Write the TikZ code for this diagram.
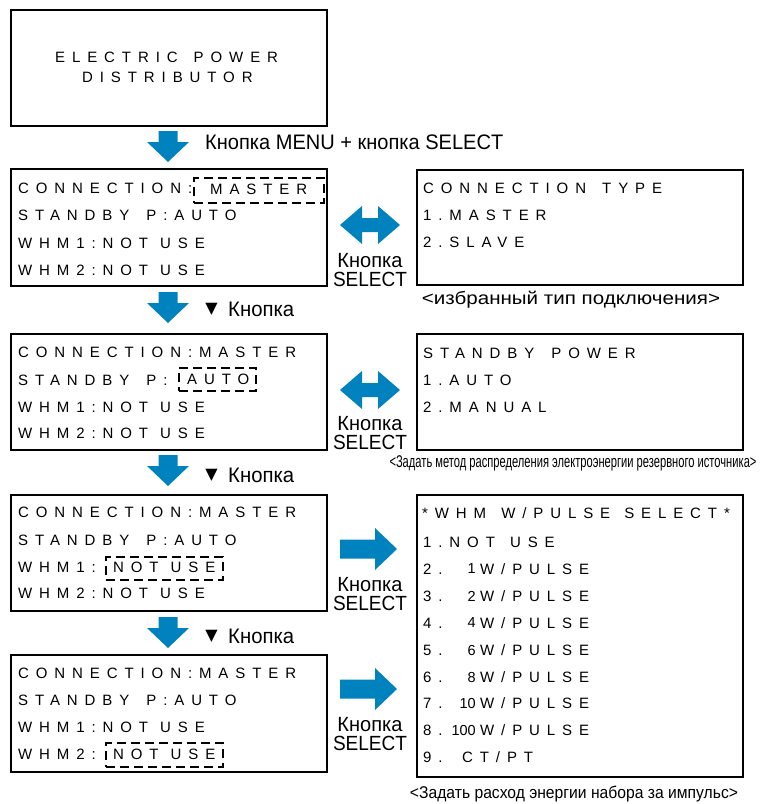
\documentclass[tikz,border=0pt]{standalone}
\usepackage{fontspec}
\usepackage{graphicx}
\setmainfont{Liberation Sans}
\newfontfamily\lcdfont[LetterSpace=46]{Liberation Sans}
\newfontfamily\symfont{DejaVu Sans}
\definecolor{arrowblue}{RGB}{0,130,190}
\newcommand\wsp[1]{\hspace{#1pt}}
\tikzset{
  screen/.style={draw, line width=2pt, anchor=north west, inner sep=0pt},
  hlbox/.style={draw, line width=2pt, dash pattern=on 9pt off 5pt, anchor=north west, inner sep=0pt},
  lcd/.style={anchor=west, inner sep=0pt, font=\fontsize{15}{15}\lcdfont},
  num/.style={anchor=east, inner sep=0pt, font=\fontsize{14.5}{14.5}\selectfont},
  lab/.style={inner sep=0pt, font=\fontsize{21}{21}\selectfont},
  lab2/.style={inner sep=0pt, align=center, font=\fontsize{20.5}{19}\selectfont},
  capt/.style={inner sep=0pt, anchor=base, font=\fontsize{17}{17}\selectfont},
  downarr/.pic={\fill[arrowblue] (-9.5,0) -- (9.5,0) -- (9.5,11) -- (21,11) -- (0,31) -- (-21,11) -- (-9.5,11) -- cycle;},
  dblarr/.pic={\fill[arrowblue] (-30,0) -- (-8,-19) -- (-8,-7) -- (8,-7) -- (8,-19) -- (30,0) -- (8,19) -- (8,7) -- (-8,7) -- (-8,19) -- cycle;},
  rarr/.pic={\fill[arrowblue] (0,-9.5) -- (35,-9.5) -- (35,-21) -- (57,0) -- (35,21) -- (35,9.5) -- (0,9.5) -- cycle;}
}
\begin{document}
\begin{tikzpicture}[x=1pt,y=-1pt]
\useasboundingbox (0,0) rectangle (760,804);
% screens
\node[screen, minimum width=316, minimum height=116] (s0) at (10,9) {};
\node[screen, minimum width=316, minimum height=117] (s1) at (10,168) {};
\node[screen, minimum width=316, minimum height=116] (s2) at (10,333) {};
\node[screen, minimum width=316, minimum height=116] (s3) at (10,494) {};
\node[screen, minimum width=316, minimum height=117] (s4) at (10,654) {};
\node[screen, minimum width=326, minimum height=115] (r1) at (416,169) {};
\node[screen, minimum width=326, minimum height=116] (r2) at (416,333) {};
\node[screen, minimum width=326, minimum height=282] (r3) at (416,494) {};
% highlight boxes
\node[hlbox, minimum width=130, minimum height=25] (h1) at (193,177) {};
\node[hlbox, minimum width=77, minimum height=23] (h2) at (178,367) {};
\node[hlbox, minimum width=117, minimum height=23] (h3) at (105,556) {};
\node[hlbox, minimum width=117, minimum height=24] (h4) at (105,742) {};
% top screen
\node[lcd] (t0a) at (55,57.5) {ELECTRIC\wsp{5} POWER};
\node[lcd] (t0b) at (82,77.5) {DISTRIBUTOR};
% screen 1
\node[lcd] (a1) at (18,188) {CONNECTION:};
\node[lcd] (a1v) at (210,189) {MASTER};
\node[lcd] (a2) at (18,215) {STANDBY\wsp{6} P:AUTO};
\node[lcd] (a3) at (18,243) {WHM1:NOT\wsp{1} USE};
\node[lcd] (a4) at (18,270) {WHM2:NOT\wsp{1} USE};
% screen 2
\node[lcd] (b1) at (18,352) {CONNECTION:MASTER};
\node[lcd] (b2) at (18,380) {STANDBY\wsp{6} P:};
\node[lcd] (b2v) at (187,379) {AUTO};
\node[lcd] (b3) at (18,407) {WHM1:NOT\wsp{1} USE};
\node[lcd] (b4) at (18,433) {WHM2:NOT\wsp{1} USE};
% screen 3
\node[lcd] (c1) at (18,512) {CONNECTION:MASTER};
\node[lcd] (c2) at (18,540) {STANDBY\wsp{6} P:AUTO};
\node[lcd] (c3) at (18,567) {WHM1:};
\node[lcd] (c3v) at (113,567) {NOT\wsp{1} USE};
\node[lcd] (c4) at (18,593) {WHM2:NOT\wsp{1} USE};
% screen 4
\node[lcd] (d1) at (18,673) {CONNECTION:MASTER};
\node[lcd] (d2) at (18,700) {STANDBY\wsp{6} P:AUTO};
\node[lcd] (d3) at (18,727) {WHM1:NOT\wsp{1} USE};
\node[lcd] (d4) at (18,754) {WHM2:};
\node[lcd] (d4v) at (113,754) {NOT\wsp{1} USE};
% right screen 1
\node[lcd] (e1) at (423,188) {CONNECTION\wsp{5} TYPE};
\node[lcd] (e2) at (423,215) {1.MASTER};
\node[lcd] (e3) at (423,242) {2.SLAVE};
% right screen 2
\node[lcd] (f1) at (423,353) {STANDBY\wsp{6} POWER};
\node[lcd] (f2) at (423,380) {1.AUTO};
\node[lcd] (f3) at (423,407) {2.MANUAL};
% right screen 3
\node[lcd] (g0) at (422,513) {*WHM\wsp{4} W/PULSE\wsp{3} SELECT*};
\node[lcd] (g1) at (423,542) {1.NOT\wsp{4} USE};
\foreach \i/\n/\y in {2/1/569, 3/2/596, 4/4/623, 5/6/650, 6/8/677, 7/10/703, 8/100/730}{
  \node[lcd] (gi\i) at (423,\y) {\i.};
  \node[num] (gn\i) at (476,\y) {\n};
  \node[lcd] (gw\i) at (480,\y) {W/PULSE};
}
\node[lcd] (gi9) at (423,757) {9.};
\node[lcd] (gw9) at (462,757) {CT/PT};
% down arrows
\pic at (168,131) {downarr};
\pic at (168,292) {downarr};
\pic at (168,455) {downarr};
\pic at (168,617) {downarr};
\node[lab, anchor=west] (m0) at (205,142.5) {\resizebox{298pt}{\height}{Кнопка MENU + кнопка SELECT}};
\foreach \k/\y in {1/309.5, 2/475.5, 3/636}{
  \node[inner sep=0pt, font=\fontsize{16}{16}\symfont] (tri\k) at (211.5,\y) {▼};
  \node[lab, anchor=west] (dn\k) at (228,\y) {\resizebox{66pt}{\height}{Кнопка}};
}
% side arrows
\pic at (370,225) {dblarr};
\pic at (370,390) {dblarr};
\pic at (340,549) {rarr};
\pic at (340,689) {rarr};
\foreach \k/\y in {1/270.5, 2/433.5, 3/594.5, 4/734.5}{
  \node[lab2] (kb\k) at (370,\y) {\resizebox{65pt}{\height}{Кнопка}\\\resizebox{74pt}{\height}{SELECT}};
}
% captions
\node[capt, font=\fontsize{18}{18}\selectfont] (cap1) at (571,304) {\resizebox{298pt}{\height}{<избранный тип подключения>}};
\node[capt] (cap2) at (573,467) {\resizebox{367pt}{\height}{<Задать метод распределения электроэнергии резервного источника>}};
\node[capt] (cap3) at (574,798) {\resizebox{328pt}{\height}{<Задать расход энергии набора за импульс>}};
\end{tikzpicture}
\end{document}
